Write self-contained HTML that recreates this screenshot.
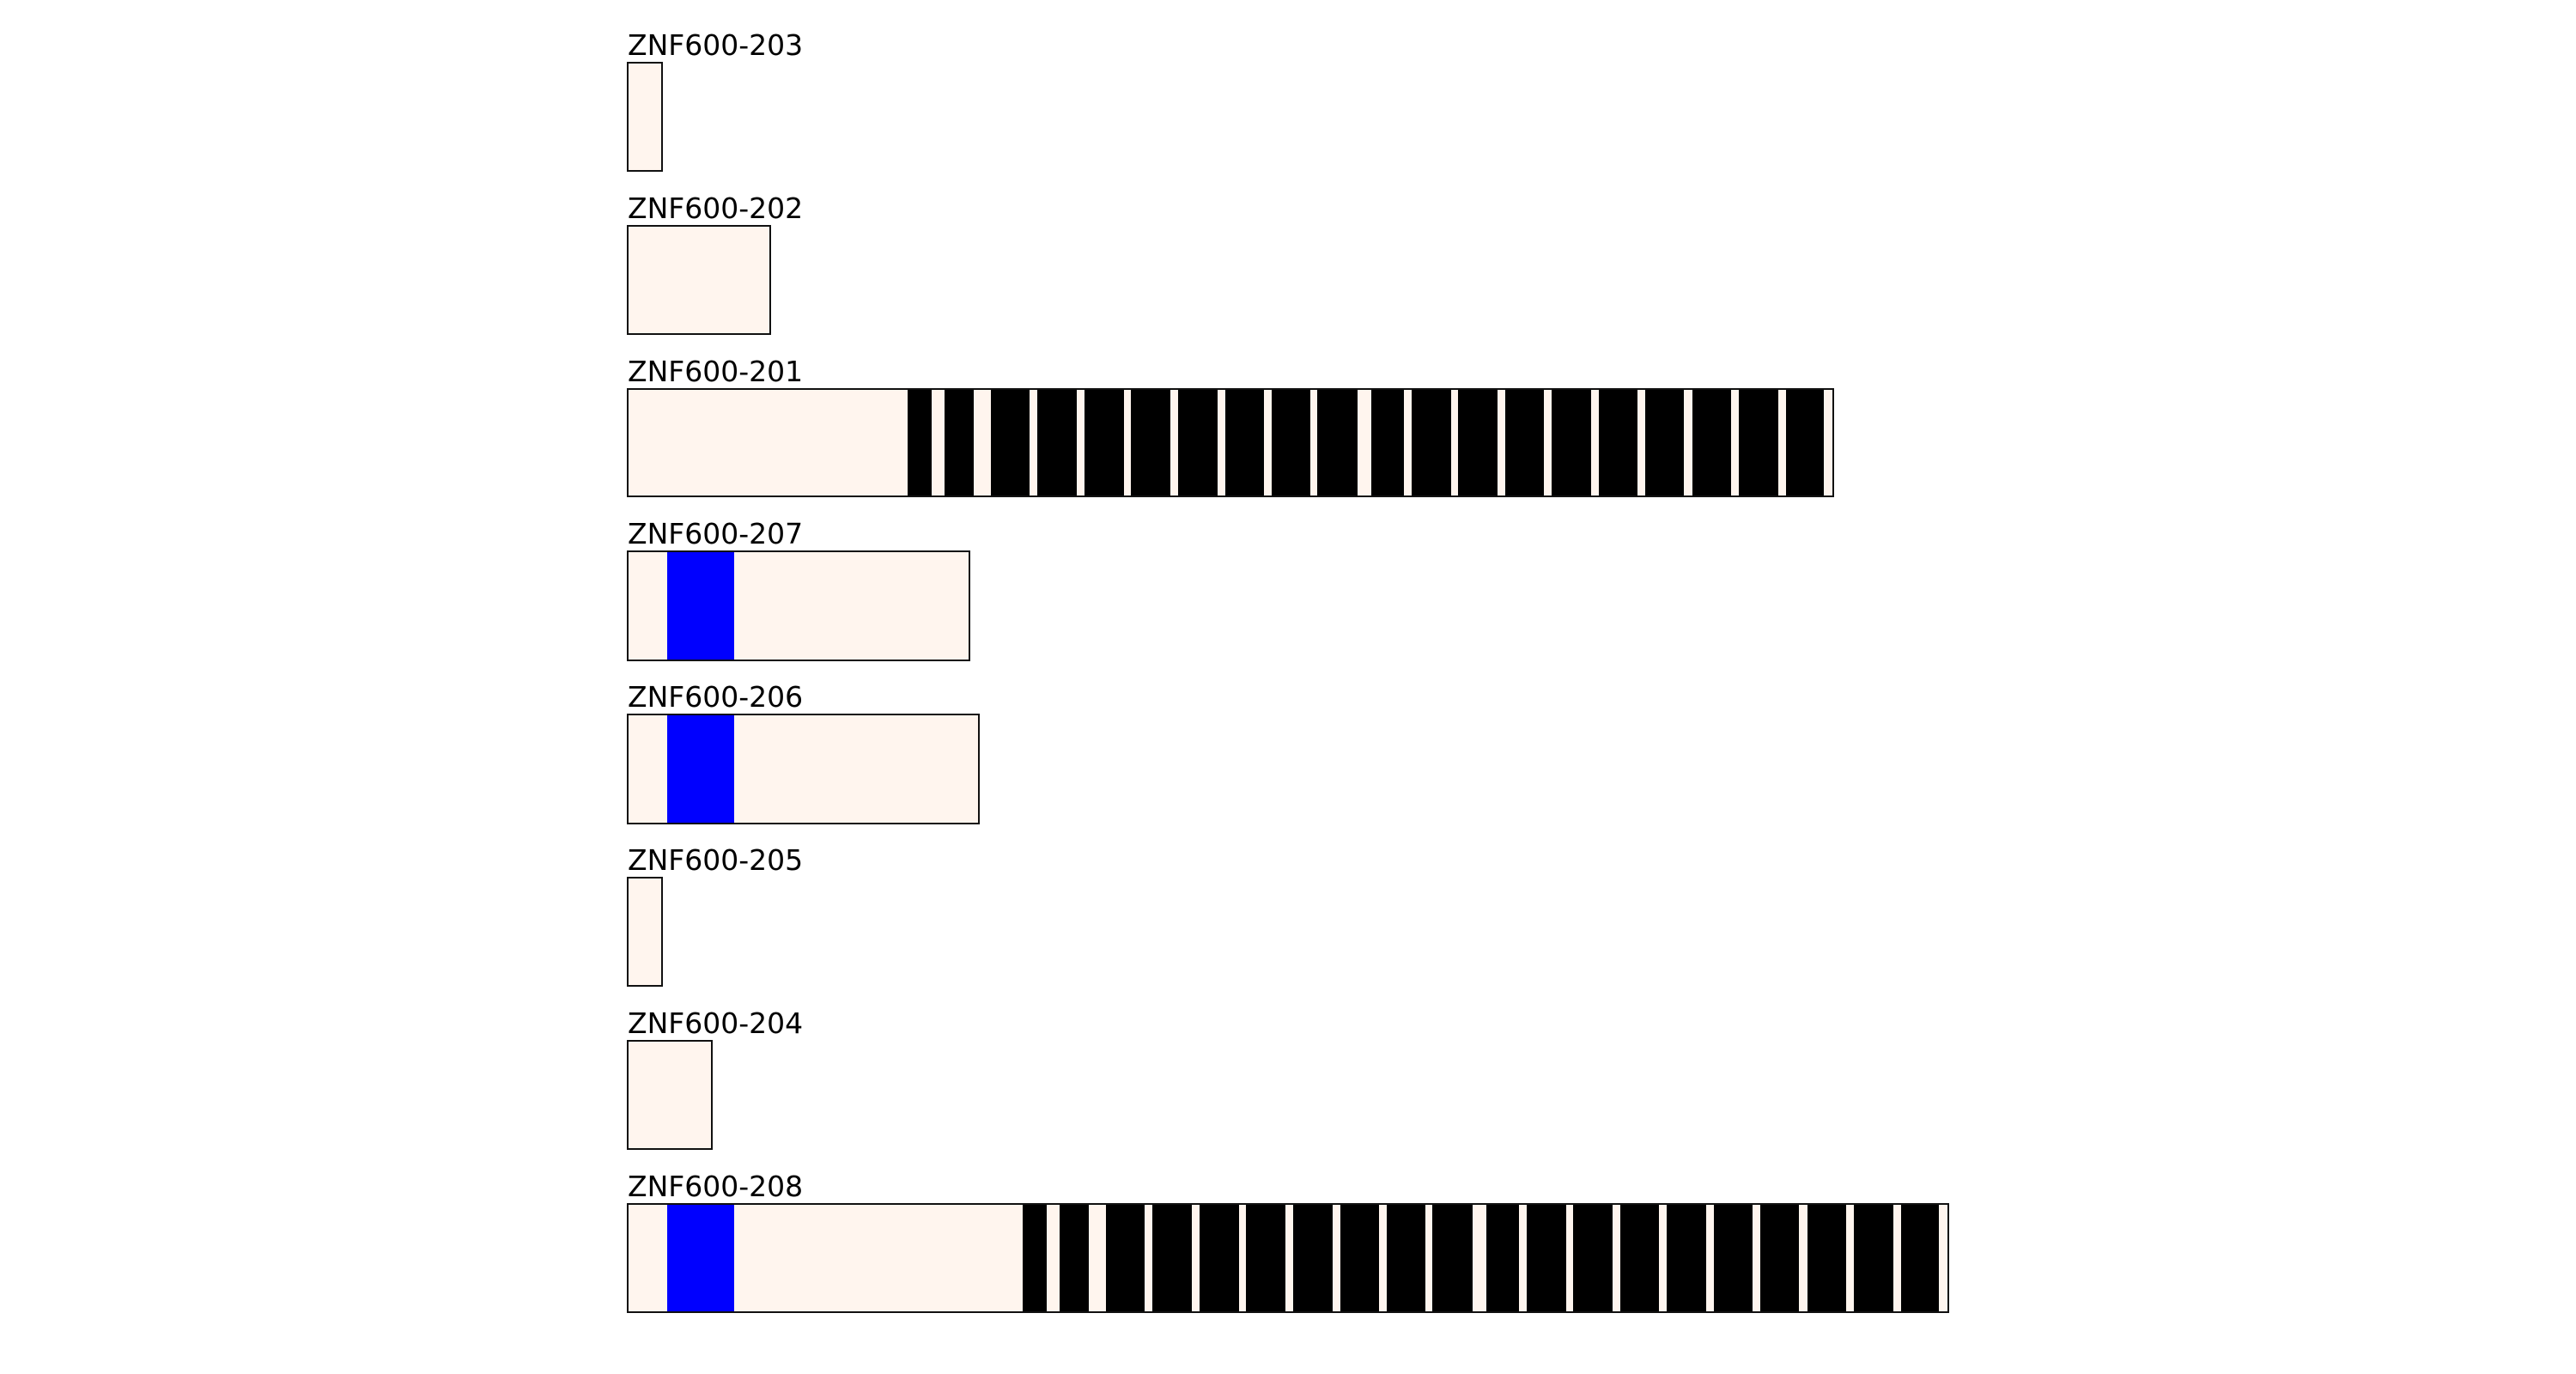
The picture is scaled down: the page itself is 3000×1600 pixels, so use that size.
<!DOCTYPE html>
<html><head><meta charset="utf-8"><style>
html,body{margin:0;padding:0;background:#fff;}
svg{display:block;}
text{font-family:"DejaVu Sans","Liberation Sans",sans-serif;font-size:33px;fill:#000;}
</style></head><body>
<svg width="3000" height="1600" viewBox="0 0 3000 1600" xmlns="http://www.w3.org/2000/svg">
<rect width="3000" height="1600" fill="#fff"/>
<!-- 203 -->
<text x="731" y="64">ZNF600-203</text>
<rect x="731" y="73" width="40" height="126" fill="#fff5ee" stroke="#111" stroke-width="2"/>
<!-- 202 -->
<text x="731" y="254">ZNF600-202</text>
<rect x="731" y="263" width="166" height="126" fill="#fff5ee" stroke="#111" stroke-width="2"/>
<!-- 201 -->
<text x="731" y="444">ZNF600-201</text>
<rect x="731" y="453" width="1404" height="125" fill="#fff5ee"/>
<rect x="1057" y="453" width="1067" height="125" fill="#000"/>
<g fill="#fff5ee">
<rect x="1085" y="454" width="15" height="123"/>
<rect x="1134" y="454" width="20" height="123"/>
<rect x="1199" y="454" width="9" height="123"/>
<rect x="1254" y="454" width="9" height="123"/>
<rect x="1309" y="454" width="8" height="123"/>
<rect x="1363" y="454" width="9" height="123"/>
<rect x="1418" y="454" width="9" height="123"/>
<rect x="1472" y="454" width="9" height="123"/>
<rect x="1526" y="454" width="8" height="123"/>
<rect x="1581" y="454" width="16" height="123"/>
<rect x="1635" y="454" width="9" height="123"/>
<rect x="1690" y="454" width="8" height="123"/>
<rect x="1744" y="454" width="9" height="123"/>
<rect x="1798" y="454" width="9" height="123"/>
<rect x="1853" y="454" width="9" height="123"/>
<rect x="1907" y="454" width="9" height="123"/>
<rect x="1961" y="454" width="10" height="123"/>
<rect x="2016" y="454" width="9" height="123"/>
<rect x="2071" y="454" width="9" height="123"/>
</g>
<rect x="731" y="453" width="1404" height="125" fill="none" stroke="#111" stroke-width="2"/>
<!-- 207 -->
<text x="731" y="633">ZNF600-207</text>
<rect x="731" y="642" width="398" height="127" fill="#fff5ee"/>
<rect x="777" y="642" width="78" height="127" fill="#0000ff"/>
<rect x="731" y="642" width="398" height="127" fill="none" stroke="#111" stroke-width="2"/>
<!-- 206 -->
<text x="731" y="823">ZNF600-206</text>
<rect x="731" y="832" width="409" height="127" fill="#fff5ee"/>
<rect x="777" y="832" width="78" height="127" fill="#0000ff"/>
<rect x="731" y="832" width="409" height="127" fill="none" stroke="#111" stroke-width="2"/>
<!-- 205 -->
<text x="731" y="1013">ZNF600-205</text>
<rect x="731" y="1022" width="40" height="126" fill="#fff5ee" stroke="#111" stroke-width="2"/>
<!-- 204 -->
<text x="731" y="1203">ZNF600-204</text>
<rect x="731" y="1212" width="98" height="126" fill="#fff5ee" stroke="#111" stroke-width="2"/>
<!-- 208 -->
<text x="731" y="1393">ZNF600-208</text>
<rect x="731" y="1402" width="1538" height="126" fill="#fff5ee"/>
<rect x="777" y="1402" width="78" height="126" fill="#0000ff"/>
<rect x="1191" y="1402" width="1067" height="126" fill="#000"/>
<g fill="#fff5ee">
<rect x="1219" y="1403" width="15" height="124"/>
<rect x="1268" y="1403" width="20" height="124"/>
<rect x="1333" y="1403" width="9" height="124"/>
<rect x="1388" y="1403" width="9" height="124"/>
<rect x="1443" y="1403" width="8" height="124"/>
<rect x="1497" y="1403" width="9" height="124"/>
<rect x="1552" y="1403" width="9" height="124"/>
<rect x="1606" y="1403" width="9" height="124"/>
<rect x="1660" y="1403" width="8" height="124"/>
<rect x="1715" y="1403" width="16" height="124"/>
<rect x="1769" y="1403" width="9" height="124"/>
<rect x="1824" y="1403" width="8" height="124"/>
<rect x="1878" y="1403" width="9" height="124"/>
<rect x="1932" y="1403" width="9" height="124"/>
<rect x="1987" y="1403" width="9" height="124"/>
<rect x="2041" y="1403" width="9" height="124"/>
<rect x="2095" y="1403" width="10" height="124"/>
<rect x="2150" y="1403" width="9" height="124"/>
<rect x="2205" y="1403" width="9" height="124"/>
</g>
<rect x="731" y="1402" width="1538" height="126" fill="none" stroke="#111" stroke-width="2"/>
</svg>
</body></html>
